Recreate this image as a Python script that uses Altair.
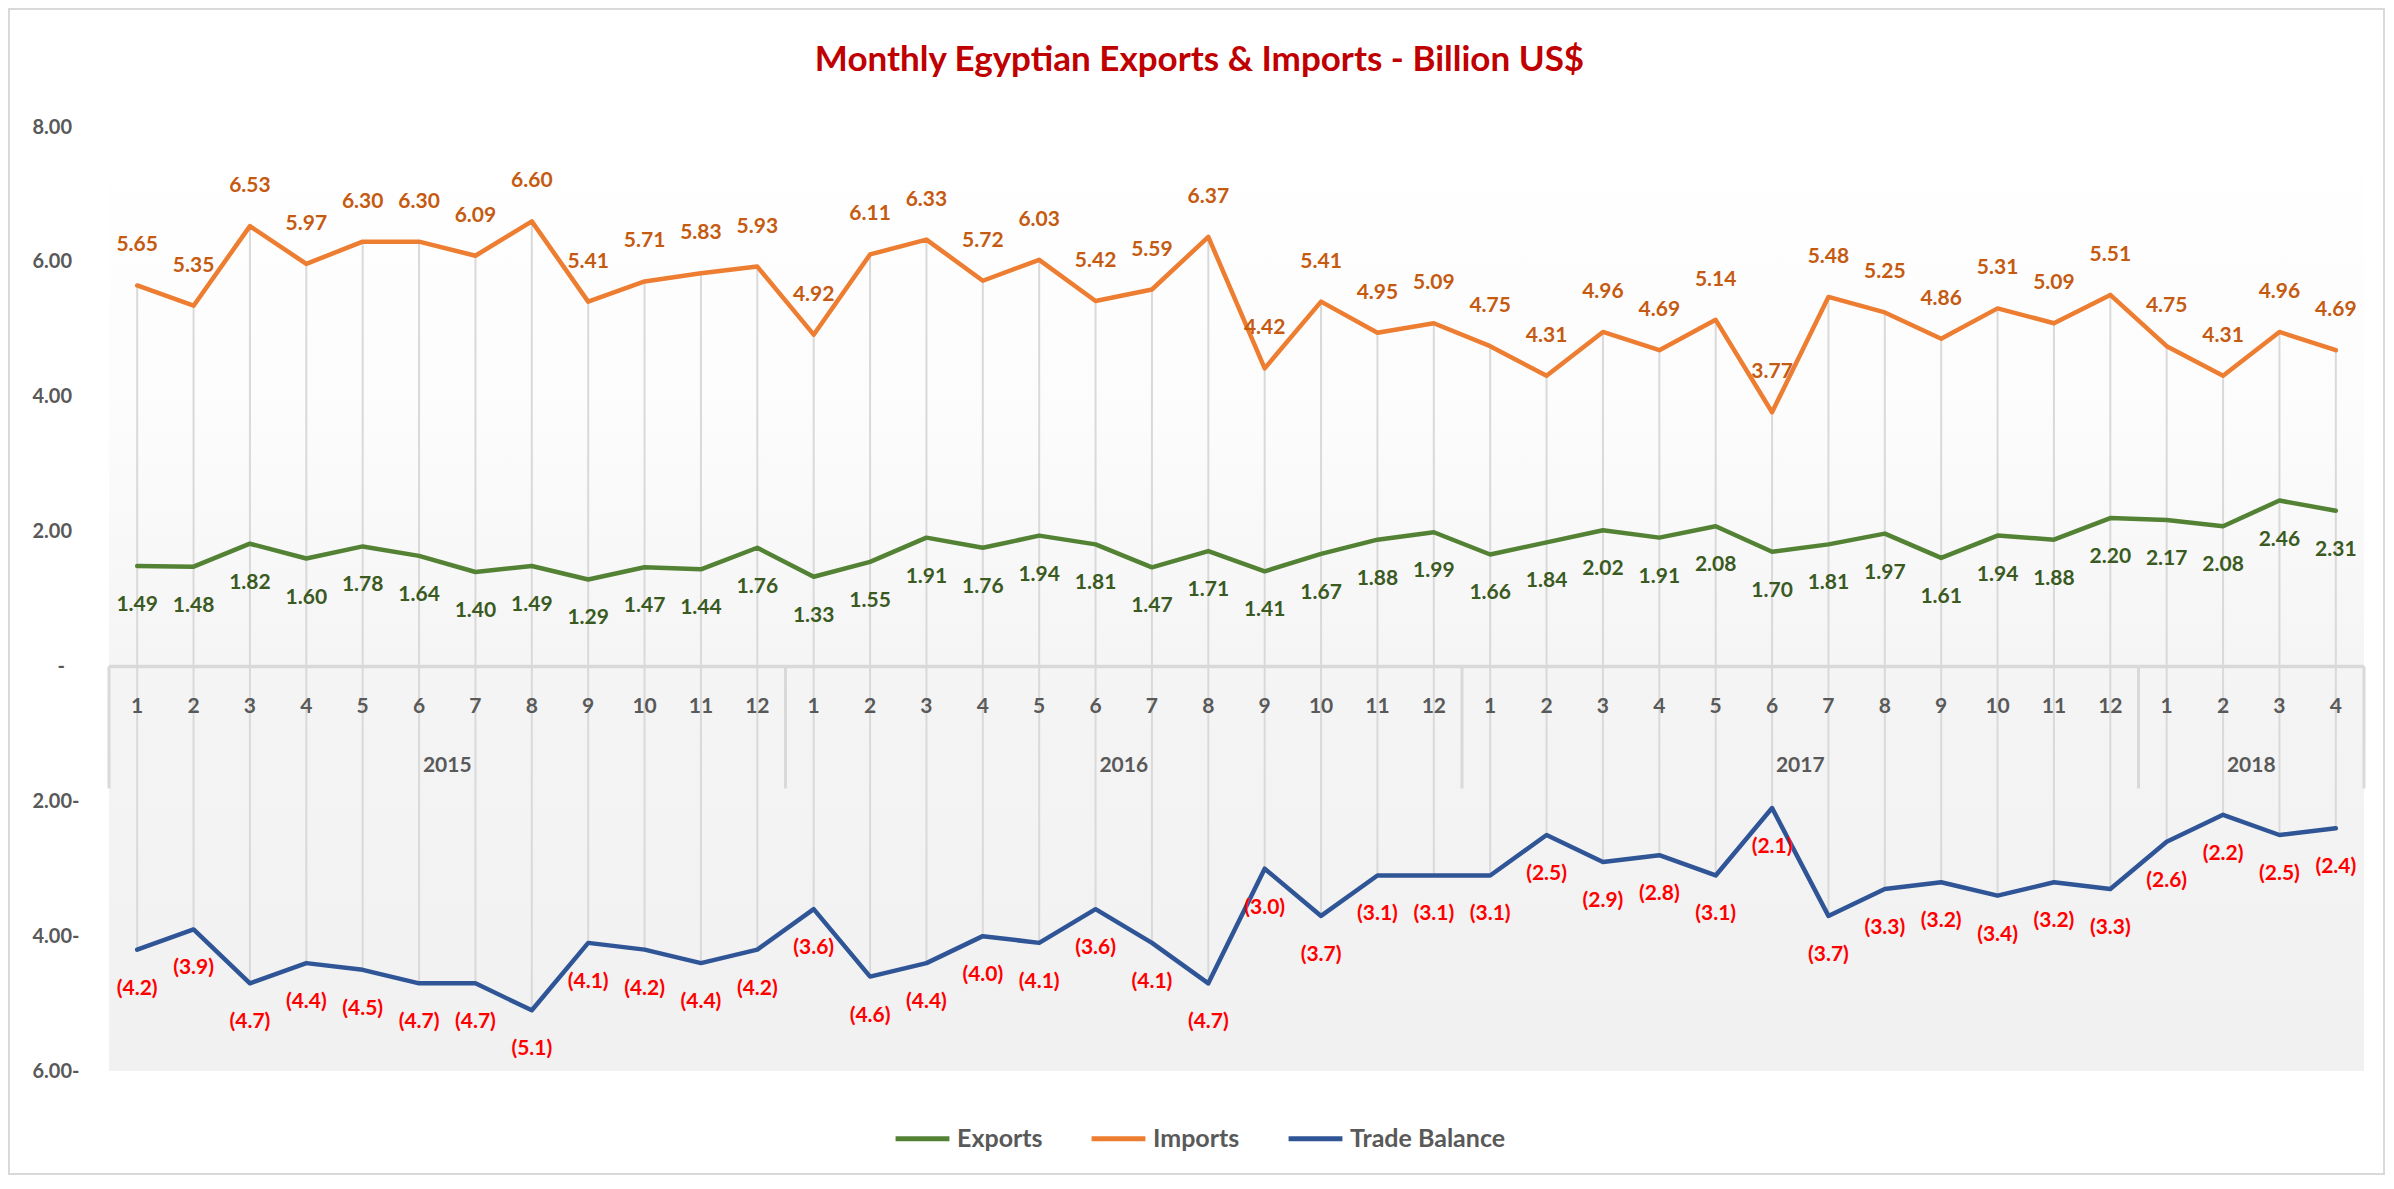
import altair as alt
import pandas as pd

# ---------------- data ----------------
years = ["2015"] * 12 + ["2016"] * 12 + ["2017"] * 12 + ["2018"] * 4
months = list(range(1, 13)) * 3 + [1, 2, 3, 4]

exports = [1.49, 1.48, 1.82, 1.60, 1.78, 1.64, 1.40, 1.49, 1.29, 1.47, 1.44, 1.76,
           1.33, 1.55, 1.91, 1.76, 1.94, 1.81, 1.47, 1.71, 1.41, 1.67, 1.88, 1.99,
           1.66, 1.84, 2.02, 1.91, 2.08, 1.70, 1.81, 1.97, 1.61, 1.94, 1.88, 2.20,
           2.17, 2.08, 2.46, 2.31]
imports = [5.65, 5.35, 6.53, 5.97, 6.30, 6.30, 6.09, 6.60, 5.41, 5.71, 5.83, 5.93,
           4.92, 6.11, 6.33, 5.72, 6.03, 5.42, 5.59, 6.37, 4.42, 5.41, 4.95, 5.09,
           4.75, 4.31, 4.96, 4.69, 5.14, 3.77, 5.48, 5.25, 4.86, 5.31, 5.09, 5.51,
           4.75, 4.31, 4.96, 4.69]
trade_balance = [-4.2, -3.9, -4.7, -4.4, -4.5, -4.7, -4.7, -5.1, -4.1, -4.2, -4.4, -4.2,
                 -3.6, -4.6, -4.4, -4.0, -4.1, -3.6, -4.1, -4.7, -3.0, -3.7, -3.1, -3.1,
                 -3.1, -2.5, -2.9, -2.8, -3.1, -2.1, -3.7, -3.3, -3.2, -3.4, -3.2, -3.3,
                 -2.6, -2.2, -2.5, -2.4]

series_names = ["Exports", "Imports", "Trade Balance"]
series_colors = ["#548235", "#ED7D31", "#2F5597"]
y_ticks = [-6, -4, -2, 0, 2, 4, 6, 8]
title_text = "Monthly Egyptian Exports & Imports - Billion US$"

# ---------------- layout ----------------
W, H = 2255, 944
YMIN, YMAX = -6, 8
n = len(months)
y0_px = H * YMAX / (YMAX - YMIN)
FONT = "Lato"
GRAY = "#595959"

wide = pd.DataFrame({"idx": list(range(n)), "year": years, "month": months,
                     "exports": exports, "imports": imports, "balance": trade_balance})
long = wide.melt(id_vars=["idx", "year", "month"], value_vars=["exports", "imports", "balance"],
                 var_name="key", value_name="value")
long["series"] = long["key"].map({"exports": "Exports", "imports": "Imports", "balance": "Trade Balance"})

yr = wide.groupby("year")["idx"].agg(["min", "max"]).reset_index()
yr["center"] = (yr["min"] + yr["max"]) / 2
bounds = pd.DataFrame({"b": [v - 0.5 for v in yr["min"]] + [yr["max"].max() + 0.5]})

xscale = alt.Scale(domain=[-0.5, n - 0.5], nice=False, zero=False)
yscale = alt.Scale(domain=[YMIN, YMAX], nice=False, zero=False)

y_label_expr = ("datum.value > 0 ? format(datum.value, '.2f') : "
                "(datum.value < 0 ? format(-datum.value, '.2f') + '-' : '-')")

y_axis = alt.Axis(values=y_ticks, labelExpr=y_label_expr, title=None, grid=False,
                  domain=False, ticks=False, labelAlign="left",
                  labelPadding={"condition": {"test": "datum.value == 0", "value": 52}, "value": 77},
                  labelFont=FONT, labelFontSize=20, labelFontWeight="bold", labelColor=GRAY)

dummy = pd.DataFrame({"a": [0]})

border = alt.Chart(dummy).mark_rect(fillOpacity=0, stroke="#D9D9D9", strokeWidth=2).encode(
    x=alt.value(-100), x2=alt.value(W + 20), y=alt.value(-118), y2=alt.value(H + 103))

bg = alt.Chart(dummy).mark_rect(
    fill=alt.Gradient(gradient="linear", x1=0, x2=0, y1=0, y2=1,
                      stops=[alt.GradientStop(color="#FFFFFF", offset=0),
                             alt.GradientStop(color="#FCFCFC", offset=0.3),
                             alt.GradientStop(color="#F4F4F4", offset=0.6),
                             alt.GradientStop(color="#F1F1F1", offset=1)])
).encode(x=alt.value(0), x2=alt.value(W), y=alt.value(0), y2=alt.value(H))

title = alt.Chart(dummy).mark_text(text=title_text, font=FONT, fontSize=35, fontWeight="bold",
                                   color="#C00000", align="center", baseline="alphabetic").encode(
    x=alt.value(W / 2 - 37), y=alt.value(-56))

drops = alt.Chart(wide).mark_rule(color="#D9D9D9", strokeWidth=2).encode(
    x=alt.X("idx:Q", scale=xscale, axis=None),
    y=alt.Y("imports:Q", scale=yscale, axis=y_axis),
    y2="balance:Q")

zero_line = alt.Chart(dummy).mark_rule(color="#D9D9D9", strokeWidth=3.5).encode(
    y=alt.datum(0, scale=yscale, axis=y_axis))

seps = alt.Chart(bounds).mark_rule(color="#D9D9D9", strokeWidth=3).encode(
    x=alt.X("b:Q", scale=xscale, axis=None),
    y=alt.datum(0, axis=y_axis),
    y2=alt.value(y0_px + 122))

month_labels = alt.Chart(wide).mark_text(font=FONT, fontSize=21, fontWeight="bold", color=GRAY,
                                         baseline="middle").encode(
    x=alt.X("idx:Q", scale=xscale, axis=None),
    y=alt.value(y0_px + 41),
    text="month:N")

year_labels = alt.Chart(yr).mark_text(font=FONT, fontSize=21, fontWeight="bold", color=GRAY,
                                      baseline="middle").encode(
    x=alt.X("center:Q", scale=xscale, axis=None),
    y=alt.value(y0_px + 100),
    text="year:N")

lines = alt.Chart(long).mark_line(strokeWidth=4.5, strokeJoin="round", strokeCap="round").encode(
    x=alt.X("idx:Q", scale=xscale, axis=None),
    y=alt.Y("value:Q", scale=yscale, axis=y_axis),
    color=alt.Color("series:N", sort=series_names,
                    scale=alt.Scale(domain=series_names, range=series_colors),
                    legend=alt.Legend(orient="none", legendX=784, legendY=982, direction="horizontal",
                                      columns=3, title=None, symbolType="stroke", symbolSize=2900,
                                      symbolStrokeWidth=5, labelFont=FONT, labelFontSize=25,
                                      labelFontWeight="bold", labelColor=GRAY, columnPadding=38,
                                      labelOffset=5, padding=0, labelLimit=0)),
    detail="series:N")


def label_layer(key, color, dy, expr):
    return alt.Chart(long).transform_filter(alt.datum.key == key).transform_calculate(
        lbl=expr).mark_text(font=FONT, fontSize=21, fontWeight="bold", color=color, dy=dy,
                            baseline="middle").encode(
        x=alt.X("idx:Q", scale=xscale, axis=None),
        y=alt.Y("value:Q", scale=yscale, axis=y_axis),
        text="lbl:N")


lab_imp = label_layer("imports", "#C55A11", -40, "format(datum.value, '.2f')")
lab_exp = label_layer("exports", "#3A5A22", 39, "format(datum.value, '.2f')")
lab_bal = label_layer("balance", "#FF0000", 39, "'(' + format(abs(datum.value), '.1f') + ')'")

chart = alt.layer(border, bg, title, drops, zero_line, seps, month_labels, year_labels, lines,
                  lab_imp, lab_exp, lab_bal).properties(
    width=W, height=H,
    autosize=alt.AutoSizeParams(type="none"),
    padding={"left": 101, "top": 119, "right": 22, "bottom": 105},
).configure(background="white", font=FONT).configure_view(stroke=None)

chart.save("out.html", embed_options={"renderer": "svg", "actions": False})
